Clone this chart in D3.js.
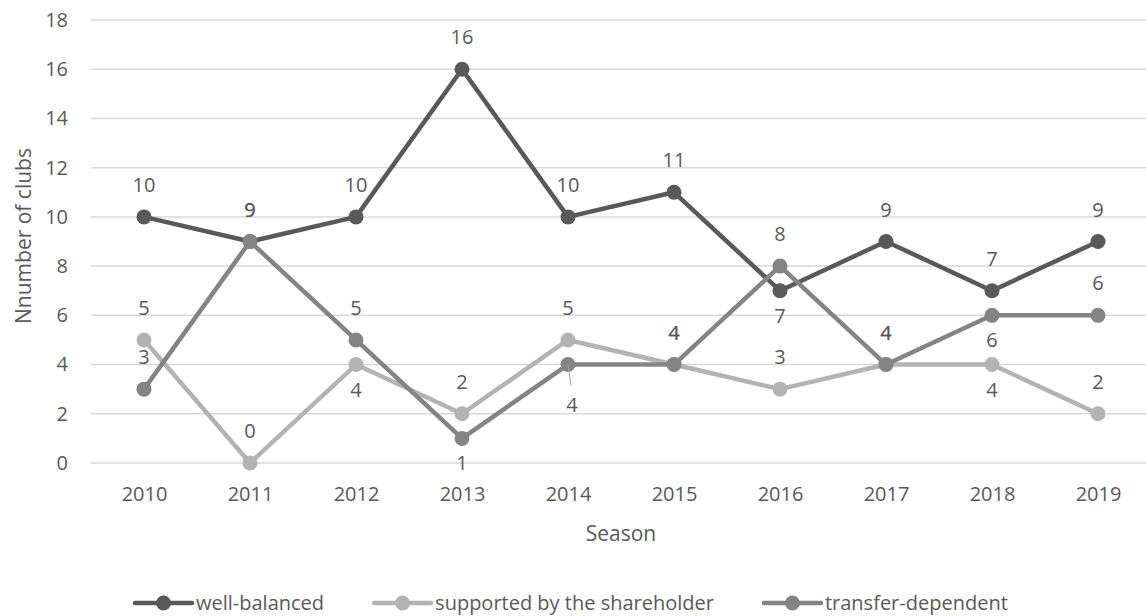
<!DOCTYPE html>
<html>
<head>
<meta charset="utf-8">
<script src="https://cdn.jsdelivr.net/npm/d3@7"></script>
<style>
  html, body { margin: 0; padding: 0; background: #fff; }
  svg { display: block; font-family: "Open Sans", sans-serif; }
</style>
</head>
<body>
<svg id="chart" width="1146" height="616"></svg>
<script>
// ---- data ----
const seasons = ["2010","2011","2012","2013","2014","2015","2016","2017","2018","2019"];
const wellBalanced = [10, 9, 10, 16, 10, 11, 7, 9, 7, 9];
const supportedByShareholder = [5, 0, 4, 2, 5, 4, 3, 4, 4, 2];
const transferDependent = [3, 9, 5, 1, 4, 4, 8, 4, 6, 6];
const seriesNames = ["well-balanced", "supported by the shareholder", "transfer-dependent"];
const yTicks = [0, 2, 4, 6, 8, 10, 12, 14, 16, 18];

// ---- presentation ----
const colors = ["#595959", "#b3b3b3", "#848484"];
// label placement: "a" above, "b" below, "bl" below with leader line
const placement = [
  ["a","a","a","a","a","a","b","a","a","a"],
  ["a","a","b","a","a","a","a","a","b","a"],
  ["a","a","a","b","bl","a","a","a","b","a"]
];
const textColor = "#595959";

const svg = d3.select("#chart");
const x = d3.scalePoint().domain(seasons).range([91, 1151]).padding(0.5);
const y = d3.scaleLinear().domain([0, 18]).range([463, 20]);

// gridlines
svg.append("g").selectAll("line").data(yTicks).join("line")
  .attr("x1", 91).attr("x2", 1146)
  .attr("y1", d => y(d)).attr("y2", d => y(d))
  .attr("stroke", "#d9d9d9").attr("stroke-width", 1.5);

// y axis labels
const yAxis = d3.axisLeft(y).tickValues(yTicks).tickSize(0).tickPadding(0);
const yg = svg.append("g").attr("transform", "translate(68,0)").call(yAxis);
yg.select(".domain").remove();
yg.selectAll("text").attr("fill", textColor).style("font-size", "20px")
  .style("font-family", "'Open Sans', sans-serif");

// x axis labels
const xAxis = d3.axisBottom(x).tickSize(0).tickPadding(0);
const xg = svg.append("g").attr("transform", "translate(0,487)").call(xAxis);
xg.select(".domain").remove();
xg.selectAll("text").attr("fill", textColor).style("font-size", "20px")
  .style("font-family", "'Open Sans', sans-serif");

// axis titles
svg.append("text").attr("x", 621).attr("y", 541).attr("text-anchor", "middle")
  .attr("fill", textColor).style("font-size", "21px").text("Season");
svg.append("text").attr("transform", "translate(31,236) rotate(-90)").attr("text-anchor", "middle")
  .attr("fill", textColor).style("font-size", "21px").text("Nnumber of clubs");

const allSeries = [wellBalanced, supportedByShareholder, transferDependent];
const line = d3.line().x((d, i) => x(seasons[i])).y(d => y(d));

// lines and markers
allSeries.forEach((vals, s) => {
  const g = svg.append("g");
  g.append("path").datum(vals).attr("d", line).attr("fill", "none")
    .attr("stroke", colors[s]).attr("stroke-width", 4.5).attr("stroke-linejoin", "round");
  g.selectAll("circle").data(vals).join("circle")
    .attr("cx", (d, i) => x(seasons[i])).attr("cy", d => y(d)).attr("r", 7.5)
    .attr("fill", colors[s]);
});

// data labels
allSeries.forEach((vals, s) => {
  const g = svg.append("g");
  vals.forEach((v, i) => {
    const px = x(seasons[i]), py = y(v);
    const p = placement[s][i];
    let ly;
    if (p === "a") ly = py - 32;
    else if (p === "b") ly = py + 25;
    else {
      ly = py + 40;
      g.append("line").attr("x1", px).attr("y1", py).attr("x2", px + 3).attr("y2", py + 21)
        .attr("stroke", "#a6a6a6").attr("stroke-width", 1);
    }
    g.append("text").attr("x", px + (p === "bl" ? 4 : 0)).attr("y", ly).attr("dy", "0.35em")
      .attr("text-anchor", "middle").attr("fill", textColor).style("font-size", "20px").text(v);
  });
});

// legend
const legend = svg.append("g").attr("transform", "translate(0,603)");
let lx = 135;
seriesNames.forEach((name, s) => {
  const it = legend.append("g").attr("transform", `translate(${lx},0)`);
  it.append("line").attr("x1", 0).attr("x2", 57).attr("y1", 0).attr("y2", 0)
    .attr("stroke", colors[s]).attr("stroke-width", 4.5).attr("stroke-linecap", "round");
  it.append("circle").attr("cx", 28.5).attr("cy", 0).attr("r", 7.5).attr("fill", colors[s]);
  const t = it.append("text").attr("x", 61).attr("y", 0).attr("dy", "0.35em")
    .attr("fill", textColor).style("font-size", "20px").text(name);
  lx += 61 + t.node().getComputedTextLength() + 50;
});
</script>
</body>
</html>
